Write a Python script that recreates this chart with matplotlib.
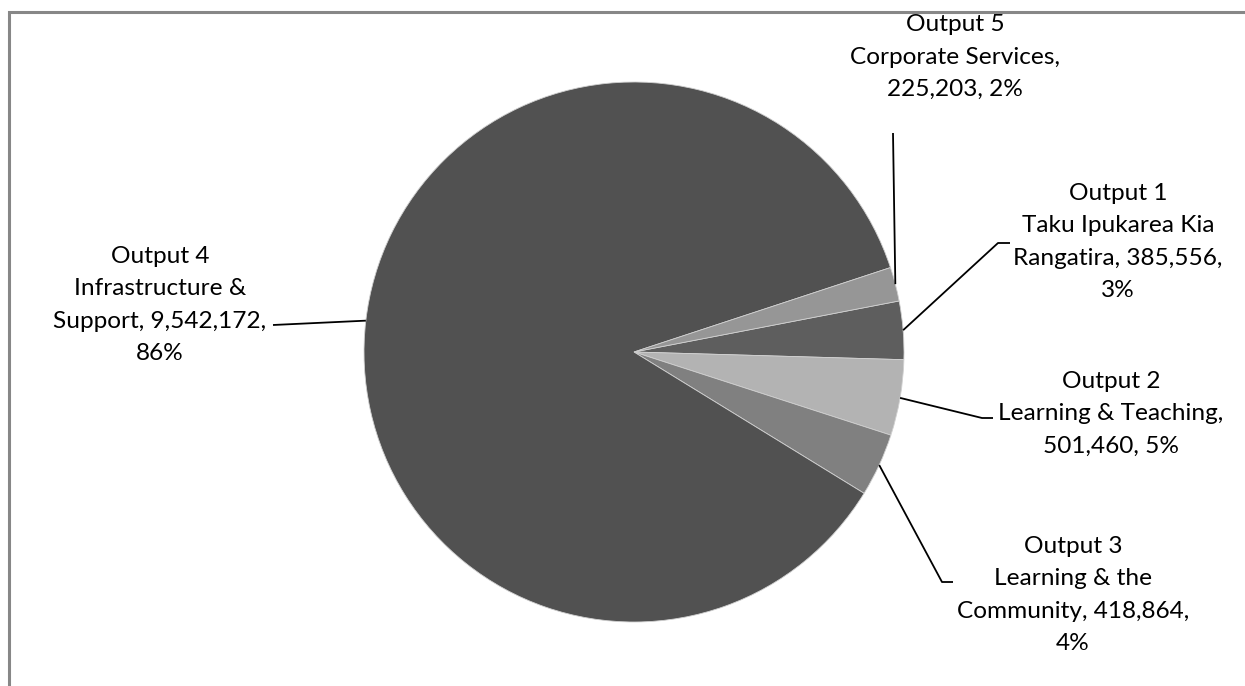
import numpy as np
import matplotlib.pyplot as plt
from matplotlib.patches import Rectangle

# data (Excel order, drawn clockwise)
names = ['Output 1\nTaku Ipukarea Kia\nRangatira, 385,556,\n3%',
         'Output 2\nLearning & Teaching,\n501,460, 5%',
         'Output 3\nLearning & the\nCommunity, 418,864,\n4%',
         'Output 4\nInfrastructure &\nSupport, 9,542,172,\n86%',
         'Output 5\nCorporate Services,\n225,203, 2%']
values = [385556, 501460, 418864, 9542172, 225203]
colors = ['#5e5e5e', '#b3b3b3', '#808080', '#515151', '#969696']

W, H = 1245, 686
fig = plt.figure(figsize=(W/100, H/100), dpi=100)
ax = fig.add_axes([0, 0, 1, 1])

cx, cy, r = 634, H - 352, 270
wedges, _ = ax.pie(values, colors=colors, startangle=10.9, counterclock=False,
                   center=(cx, cy), radius=r, frame=True,
                   wedgeprops=dict(linewidth=0.6, edgecolor='#d0d0d0'))
ax.set_xlim(0, W)
ax.set_ylim(0, H)
ax.set_aspect('equal')
ax.axis('off')

# label text centres and leader-line elbows (pixel coords, y from top)
label_pos = [(1118, 242), (1111, 414), (1073, 595), (160, 305), (955, 57)]
elbows = [[(998, 243), (1010, 243)],
          [(982, 418), (993, 418)],
          [(942, 582), (953, 582)],
          [(273, 325), (273, 325)],
          [(893, 133), (893, 133)]]

for w, lab, (tx, ty), elb in zip(wedges, names, label_pos, elbows):
    mid = np.deg2rad((w.theta1 + w.theta2) / 2)
    ex, ey = cx + r * np.cos(mid), cy + r * np.sin(mid)
    xs = [ex] + [p[0] for p in elb]
    ys = [ey] + [H - p[1] for p in elb]
    ax.plot(xs, ys, color='black', lw=1.3, solid_capstyle='butt')
    ax.text(tx, H - ty, lab, ha='center', va='center', fontsize=17.6,
            family='Lato', linespacing=1.68, color='black')

# outer chart border (runs off right and bottom edges)
fig.patches.append(Rectangle((8.5, -20), W + 40, H - 11.5 + 20, transform=None,
                             fill=False, edgecolor='#878787', lw=2.2))

fig.savefig('out.png', dpi=100)
